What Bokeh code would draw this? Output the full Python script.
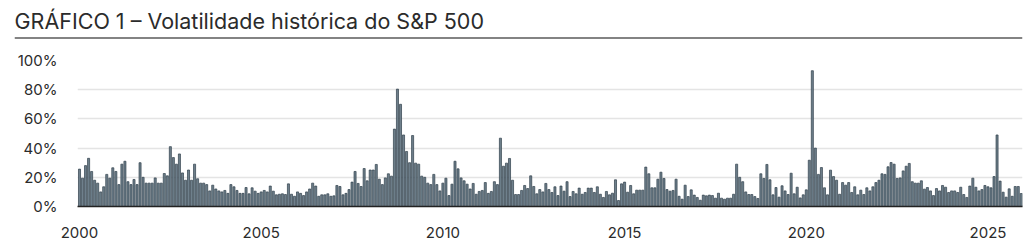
from bokeh.plotting import figure
from bokeh.layouts import column
from bokeh.models import (ColumnDataSource, FixedTicker, PrintfTickFormatter,
                          Range1d, Span, Label)
from bokeh.embed import file_html
from bokeh.resources import INLINE

title_text = "GRÁFICO 1 – Volatilidade histórica do S&P 500"
start_year = 2000
year_ticks = [2000, 2005, 2010, 2015, 2020, 2025]
pct_ticks = [0, 20, 40, 60, 80, 100]

# monthly historical volatility (%), Jan 2000 onwards
vol_2000s = [
    25.6, 19.4, 28, 33, 24, 18, 16, 10, 13.5, 22, 19.4, 26.5,
    24, 15, 29, 31, 17, 15, 18.5, 15, 30, 20, 16, 16,
    16, 19.6, 16, 16, 22.6, 21, 41, 33.5, 29, 36, 23, 18,
    25, 18, 29, 19, 16, 16, 15, 10.7, 14.6, 12, 10.7, 10,
    11, 9, 15, 13.5, 11, 9, 9, 13, 8.7, 12.8, 10.5, 9,
    10, 11, 10, 14, 10.5, 8, 8.4, 8.7, 8.2, 15.5, 8.4, 7,
    10, 9, 7.5, 10, 12, 16, 14, 7, 8, 8, 8.7, 7,
    7.3, 14.4, 13.7, 8, 9, 11.6, 16.7, 24, 15.8, 13.7, 26, 17.6,
    25, 25, 28.8, 18.7, 15, 19.6, 22.4, 20.8, 53, 80.4, 70, 49,
    37.7, 30, 48.6, 29.7, 29, 20.8, 20, 16, 15, 22, 15, 10.7,
]
vol_2010s = [
    16, 19.4, 7.5, 15.3, 31, 25.8, 19.6, 17.6, 15.3, 12, 15.8, 8.4,
    10.3, 11, 16.4, 9, 10.3, 17, 15, 46.8, 27.6, 29.7, 32.9, 18,
    8.2, 8.2, 11, 14.4, 12.3, 21, 13.7, 8.7, 11.6, 10, 15.8, 11.6,
    9.6, 13.5, 7.5, 14, 10.5, 17, 6.8, 10.3, 8.7, 12.6, 8.4, 9.6,
    12.6, 12.6, 9.6, 13.5, 8.4, 6.2, 10.3, 8, 9.1, 18.3, 4.1, 15.5,
    16.7, 9.8, 14.4, 8.7, 11.2, 11.2, 11.2, 27, 22.4, 12.8, 12.8, 18.7,
    23.5, 19.2, 11.6, 10.5, 11, 18.7, 7, 5, 14.6, 6.8, 11.4, 7.8,
    6.2, 4.3, 7.8, 7.3, 7.8, 7.5, 5.7, 9.1, 5.7, 5, 5.7, 5.7,
    8.4, 29, 20, 17, 10, 8.2, 8.2, 6.8, 5.5, 22.4, 19.2, 28.8,
    18.3, 8, 13, 6.4, 14.2, 10.7, 8.2, 22.8, 8.7, 13.2, 5.9, 8,
]
vol_2020s = [
    11.4, 31.7, 93, 40, 22, 26.7, 12.8, 8, 24.9, 20.5, 18, 8.4,
    16.4, 14.6, 16.4, 9.6, 13.5, 8, 11.2, 8.2, 12.8, 10.7, 13.5, 16.4,
    18, 22.4, 22, 27.2, 30.1, 29, 19.2, 19.6, 24.4, 27.6, 29.5, 17,
    16, 16, 17.6, 11.9, 13, 10.7, 7.5, 12.3, 10.7, 14.4, 13.2, 9.6,
    10.7, 10.7, 9.6, 13.2, 8.2, 6.2, 14, 19.4, 13.2, 10.7, 11.6, 14.4,
    13.5, 12.8, 20.5, 49, 17.4, 9.8, 6.4, 12.1, 7, 13.7, 13.7, 8.9,
]

values = vol_2000s + vol_2010s + vol_2020s
dates = [start_year + i / 12.0 for i in range(len(values))]
src = ColumnDataSource(data=dict(x=dates, v=values))

FONT = "Inter"
TXT = "#2b2b2b"

# ---- header (title + rule)
head = figure(width=1024, height=40, output_backend="svg", toolbar_location=None,
              x_axis_type=None, y_axis_type=None,
              x_range=Range1d(0, 1008), y_range=Range1d(0, 40),
              min_border_left=14, min_border_right=2, min_border_top=0,
              min_border_bottom=0, frame_align=False)
head.outline_line_color = None
head.add_layout(Label(x=0, y=20, text=title_text, text_font=FONT,
                      text_font_size="21.5px", text_color=TXT,
                      text_baseline="alphabetic", text_align="left"))
head.add_layout(Span(location=2.5, dimension="width", line_color="#5a5a5a",
                     line_width=1.5))

# ---- chart
p = figure(width=1024, height=200, output_backend="svg", toolbar_location=None,
           x_range=Range1d(1999.945, 2025.95), y_range=Range1d(0, 100),
           min_border_left=77, min_border_right=2, min_border_top=20,
           min_border_bottom=34, frame_align=False)
p.outline_line_color = None
p.vbar(x="x", top="v", bottom=0, width=0.68 / 12, source=src,
       fill_color="#6f808c", line_color="#2f3f4a", line_width=0.7)

p.xgrid.visible = False
p.ygrid.grid_line_color = "#e4e4e4"
p.ygrid.grid_line_width = 1.5
p.ygrid.ticker = FixedTicker(ticks=pct_ticks)

p.xaxis.ticker = FixedTicker(ticks=year_ticks)
p.xaxis.formatter = PrintfTickFormatter(format="%d")
p.xaxis.axis_line_color = "#222222"
p.xaxis.axis_line_width = 1.5
p.xaxis.major_tick_line_color = None
p.xaxis.minor_tick_line_color = None
p.xaxis.major_label_standoff = 14
p.xaxis.major_label_text_font = FONT
p.xaxis.major_label_text_font_size = "15px"
p.xaxis.major_label_text_color = TXT

p.yaxis.ticker = FixedTicker(ticks=pct_ticks)
p.yaxis.formatter = PrintfTickFormatter(format="%d%%")
p.yaxis.axis_line_color = None
p.yaxis.major_tick_line_color = None
p.yaxis.minor_tick_line_color = None
p.yaxis.major_label_standoff = 14
p.yaxis.major_label_text_font = FONT
p.yaxis.major_label_text_font_size = "15px"
p.yaxis.major_label_text_color = TXT

layout = column(head, p, spacing=0)
open("out.html", "w").write(file_html(layout, INLINE))
